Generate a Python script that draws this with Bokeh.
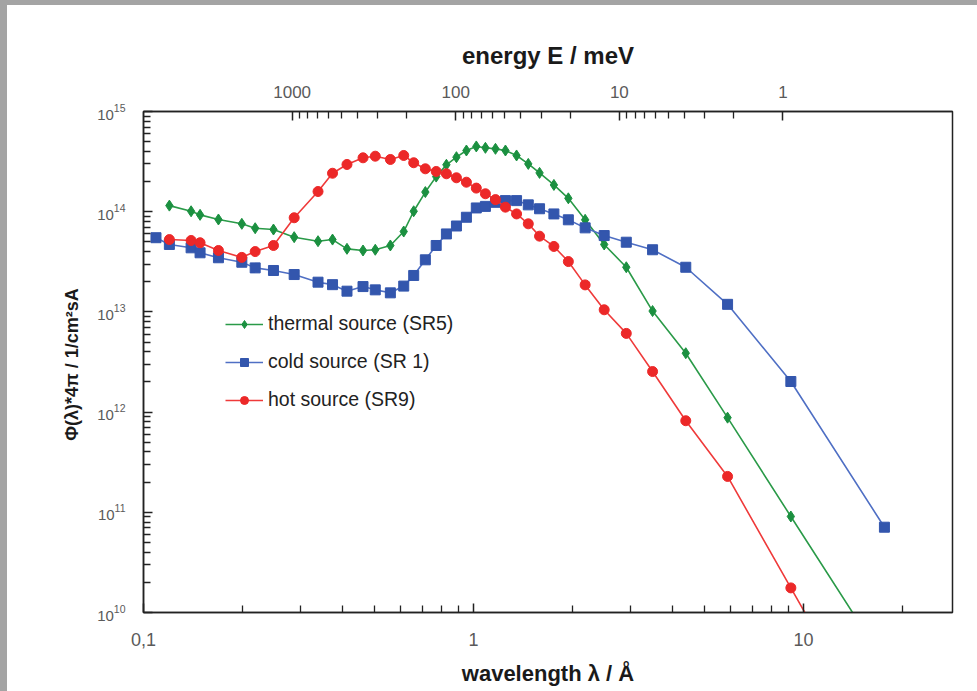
from bokeh.plotting import figure
from bokeh.models import (LogAxis, FixedTicker, CustomJSTickFormatter, Range1d,
                          LogScale, Legend, LegendItem)
from bokeh.embed import file_html
from bokeh.resources import INLINE

# ---------------- data ----------------
lam_common = [0.1198, 0.1394, 0.1484, 0.1687, 0.1986, 0.218, 0.2477, 0.2862, 0.338, 0.374,
              0.4137, 0.4627, 0.504, 0.56, 0.6147, 0.659, 0.7148, 0.771, 0.828, 0.888,
              0.952, 1.02, 1.087, 1.166, 1.25, 1.351, 1.466, 1.586, 1.753, 1.939,
              2.18, 2.49, 2.905, 3.49, 4.4, 5.89, 9.16]

lam_thermal = lam_common + [17.6]
flux_thermal = [1.15e14, 1.01e14, 9.3e13, 8.36e13, 7.57e13, 6.84e13, 6.64e13, 5.57e13, 5.08e13, 5.27e13,
                4.26e13, 4.1e13, 4.17e13, 4.6e13, 6.34e13, 1.01e14, 1.57e14, 2.24e14, 2.94e14, 3.5e14,
                4.08e14, 4.48e14, 4.34e14, 4.24e14, 4.08e14, 3.64e14, 3.0e14, 2.44e14, 1.85e14, 1.36e14,
                8.3e13, 4.71e13, 2.79e13, 1.02e13, 3.87e12, 8.8e11, 9.08e10, 3.2e9]

lam_cold = [0.1091] + lam_common + [17.6]
flux_cold = [5.5e13, 4.71e13, 4.36e13, 3.89e13, 3.47e13, 3.13e13, 2.75e13, 2.59e13, 2.36e13, 1.98e13,
             1.87e13, 1.61e13, 1.79e13, 1.66e13, 1.55e13, 1.81e13, 2.31e13, 3.31e13, 4.6e13, 6.0e13,
             7.2e13, 8.8e13, 1.09e14, 1.13e14, 1.24e14, 1.29e14, 1.29e14, 1.17e14, 1.07e14, 9.5e13,
             8.3e13, 6.9e13, 5.78e13, 4.96e13, 4.17e13, 2.79e13, 1.19e13, 2.02e12, 7.1e10]

lam_hot = lam_common + [17.6]
flux_hot = [5.27e13, 5.16e13, 4.9e13, 4.1e13, 3.5e13, 4.0e13, 4.6e13, 8.7e13, 1.59e14, 2.42e14,
            2.96e14, 3.45e14, 3.58e14, 3.32e14, 3.64e14, 3.08e14, 2.68e14, 2.52e14, 2.39e14, 2.18e14,
            1.97e14, 1.72e14, 1.51e14, 1.32e14, 1.11e14, 9.5e13, 7.57e13, 5.7e13, 4.5e13, 3.18e13,
            1.86e13, 1.05e13, 6.1e12, 2.54e12, 8.2e11, 2.28e11, 1.76e10, 4.0e8]

series_names = ["thermal source (SR5)", "cold source (SR 1)", "hot source (SR9)"]

x_major = [0.1, 1, 10]
x_minor = [0.2, 0.3, 0.4, 0.5, 0.6, 0.7, 0.8, 0.9, 2, 3, 4, 5, 6, 7, 8, 9, 20]
y_major = [1e10, 1e11, 1e12, 1e13, 1e14, 1e15]
y_minor = [k * 10.0 ** n for n in range(10, 15) for k in range(2, 10)]
e_major = [1, 10, 100, 1000]
e_minor = [k * 10.0 ** n for n in range(0, 3) for k in range(2, 10)]

# ---------------- figure ----------------
FONT = "Liberation Sans"
p = figure(x_axis_type="log", y_axis_type="log",
           x_range=Range1d(0.1, 28.3), y_range=Range1d(1e10, 1e15),
           width=977, height=691,
           min_border_left=143, min_border_top=111, min_border_right=25, min_border_bottom=79,
           output_backend="svg", toolbar_location=None)
p.background_fill_color = "white"
p.border_fill_color = None
p.styles = {
    "background": "linear-gradient(to right, #a4a4a4 7px, transparent 7px), "
                  "linear-gradient(to bottom, #a4a4a4 5px, #ffffff 5px)",
}
p.grid.visible = False
p.outline_line_color = "#222222"
p.outline_line_width = 1.5

# bottom axis
xa = p.xaxis[0]
xa.ticker = FixedTicker(ticks=x_major, minor_ticks=x_minor)
xa.formatter = CustomJSTickFormatter(code="return String(tick).replace('.', ',');")
xa.axis_label = "wavelength λ / Å"

# left axis
ya = p.yaxis[0]
ya.ticker = FixedTicker(ticks=y_major, minor_ticks=y_minor)
ya.axis_label = "Φ(λ)*4π /  1/cm²sA"

# top energy axis
p.extra_x_ranges = {"E": Range1d(8100, 0.092)}
p.extra_x_scales = {"E": LogScale()}
ta = LogAxis(x_range_name="E", ticker=FixedTicker(ticks=e_major, minor_ticks=e_minor),
             formatter=CustomJSTickFormatter(code="return tick.toFixed(0);"),
             axis_label="energy E / meV")
p.add_layout(ta, "above")

for ax in (xa, ya, ta):
    ax.axis_line_color = "#222222"
    ax.axis_line_width = 1.5
    ax.major_tick_line_color = "#222222"
    ax.minor_tick_line_color = "#222222"
    ax.major_tick_line_width = 1.5
    ax.minor_tick_line_width = 1.3
    ax.major_tick_out = 0
    ax.minor_tick_out = 0
    ax.major_tick_in = 9
    ax.minor_tick_in = 7
    ax.major_label_text_font = FONT
    ax.major_label_text_color = "#5a5a5a"
    ax.axis_label_text_font = FONT
    ax.axis_label_text_font_style = "bold"
    ax.axis_label_text_color = "#1a1a1a"

xa.major_label_text_font_size = "18px"
xa.major_label_standoff = 20
xa.axis_label_text_font_size = "22px"
xa.axis_label_standoff = 12

ta.major_label_text_font_size = "17px"
ta.major_label_standoff = 14
ta.axis_label_text_font_size = "24px"
ta.axis_label_standoff = 14

ya.major_label_text_font_size = "15px"
ya.major_label_standoff = 18
ya.axis_label_text_font_size = "18px"
ya.axis_label_standoff = 12

# ---------------- series ----------------
GREEN_L, GREEN_M = "#2a9a48", "#1b9040"
BLUE_L, BLUE_M = "#4f6fc4", "#3356ad"
RED_L, RED_M = "#ef3a3a", "#ec2828"

g_line = p.line(lam_thermal, flux_thermal, line_color=GREEN_L, line_width=1.6)
g_mark = p.scatter(lam_thermal, flux_thermal, marker="diamond", size=11,
                   fill_color=GREEN_M, line_color=GREEN_M)
b_line = p.line(lam_cold, flux_cold, line_color=BLUE_L, line_width=1.6)
b_mark = p.scatter(lam_cold, flux_cold, marker="square", size=10, fill_color=BLUE_M, line_color=BLUE_M)
r_line = p.line(lam_hot, flux_hot, line_color=RED_L, line_width=1.6)
r_mark = p.scatter(lam_hot, flux_hot, marker="circle", size=10, fill_color=RED_M, line_color=RED_M)

legend = Legend(items=[
    LegendItem(label=series_names[0], renderers=[g_line, g_mark]),
    LegendItem(label=series_names[1], renderers=[b_line, b_mark]),
    LegendItem(label=series_names[2], renderers=[r_line, r_mark]),
], location=(82, 201))
legend.padding = 0
legend.margin = 0
legend.spacing = 15
legend.glyph_width = 38
legend.glyph_height = 20
legend.label_height = 20
legend.label_standoff = 5
legend.label_text_font = FONT
legend.label_text_font_size = "19.5px"
legend.label_text_color = "#222222"
legend.border_line_alpha = 0
legend.background_fill_alpha = 0
p.add_layout(legend, "center")

html = file_html(p, INLINE)
html = html.replace("<head>", "<head><style>html,body{margin:0;padding:0;overflow:hidden;background:#ffffff}</style>", 1)
open("out.html", "w").write(html)
